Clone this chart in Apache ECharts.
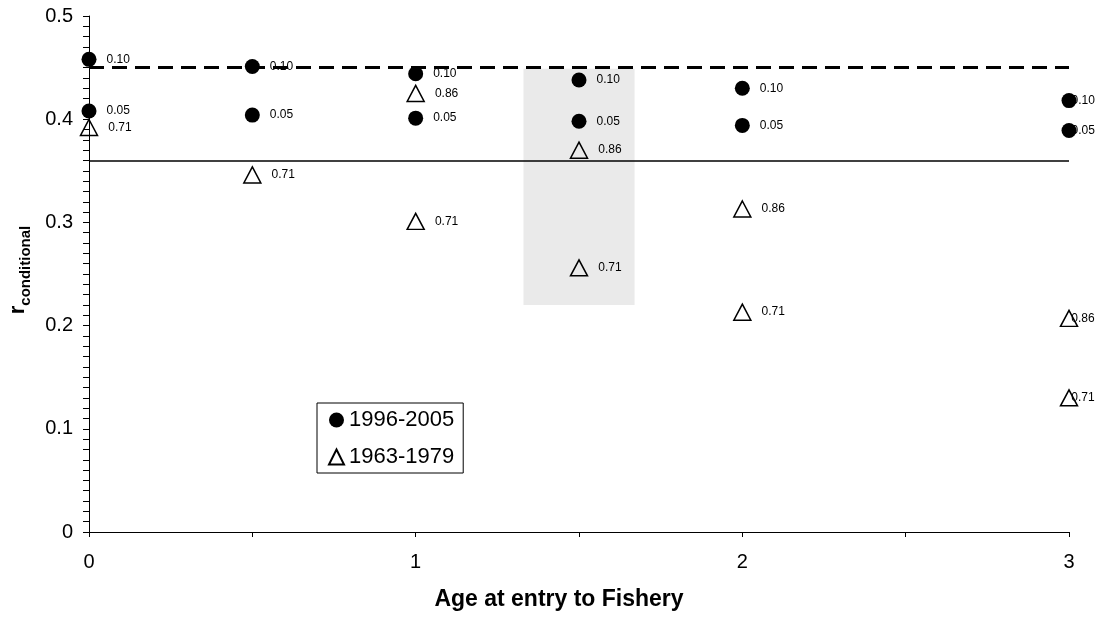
<!DOCTYPE html>
<html>
<head>
<meta charset="utf-8">
<script src="https://cdn.jsdelivr.net/npm/echarts@6/dist/echarts.min.js"></script>
<style>html,body{margin:0;padding:0;background:#fff}#c{width:1104px;height:617px}</style>
</head>
<body>
<div id="c"></div>
<script>
// ---- data ----
const xValues = [0, 0.5, 1, 1.5, 2, 3];
const xTickLabels = ['0', '1', '2', '3'];
const yTickLabels = ['0', '0.1', '0.2', '0.3', '0.4', '0.5'];
// 1996-2005 (filled circles)
const recentLabels = ['0.10', '0.05'];
const recent010 = [0.458, 0.451, 0.444, 0.438, 0.430, 0.418];
const recent005 = [0.408, 0.404, 0.401, 0.398, 0.394, 0.389];
// 1963-1979 (open triangles)
const oldLabels = ['0.71', '0.86'];
const old071 = [0.392, 0.346, 0.301, 0.256, 0.213, 0.130];
const old086 = [null, null, 0.425, 0.370, 0.313, 0.207];
// reference lines & shaded band
const dashedLevel = 0.449;
const solidLevel = 0.361;
const shadeX = [1.33, 1.67];
const shadeY = [0.22, 0.449];
const seriesNames = ['1996-2005', '1963-1979'];
const xTitle = 'Age at entry to Fishery';

function buildPoints(arrs, labels, edgeDistance) {
  const out = [];
  arrs.forEach((arr, k) => {
    arr.forEach((v, i) => {
      if (v == null) return;
      const item = { value: [xValues[i], v, labels[k]] };
      if (xValues[i] === 3) item.label = { distance: edgeDistance };
      out.push(item);
    });
  });
  return out;
}

const chart = echarts.init(document.getElementById('c'), null, { renderer: 'canvas' });
const FONT = 'Liberation Sans, Arial, sans-serif';

chart.setOption({
  animation: false,
  backgroundColor: '#fff',
  textStyle: { fontFamily: FONT, color: '#000' },
  grid: { left: 89, right: 35, top: 16, bottom: 85, containLabel: false },
  xAxis: {
    type: 'value', min: 0, max: 3, interval: 0.5,
    axisLine: { lineStyle: { color: '#000', width: 1 } },
    axisTick: { show: true, length: 5, lineStyle: { color: '#000' } },
    splitLine: { show: false },
    axisLabel: {
      margin: 20, fontSize: 20, color: '#000', fontFamily: FONT,
      formatter: v => (Number.isInteger(v) ? xTickLabels[v] : '')
    }
  },
  yAxis: {
    type: 'value', min: 0, max: 0.5, interval: 0.1,
    axisLine: { show: true, lineStyle: { color: '#000', width: 1 } },
    axisTick: { show: true, length: 6, lineStyle: { color: '#000' } },
    minorTick: { show: true, splitNumber: 10, length: 6, lineStyle: { color: '#000' } },
    splitLine: { show: false },
    axisLabel: {
      margin: 16, fontSize: 20, color: '#000', fontFamily: FONT,
      formatter: v => yTickLabels[Math.round(v * 10)]
    }
  },
  legend: {
    orient: 'vertical', left: 317, top: 403,
    borderColor: '#000', borderWidth: 1, borderRadius: 0,
    padding: [6, 9, 5, 11], itemGap: 15, itemWidth: 15, itemHeight: 15,
    textStyle: { fontSize: 22, color: '#000', fontFamily: FONT },
    data: seriesNames
  },
  graphic: [
    {
      type: 'text', x: 559, y: 600, z: 10,
      style: { text: xTitle, font: 'bold 23px ' + FONT, fill: '#000', textAlign: 'center', textVerticalAlign: 'middle' }
    },
    {
      type: 'text', x: 18, y: 270, rotation: Math.PI / 2, z: 10,
      style: {
        text: '{r|r}{s|conditional}', textAlign: 'center', textVerticalAlign: 'middle', fill: '#000',
        rich: {
          r: { font: 'bold 22px ' + FONT, fill: '#000', lineHeight: 30, verticalAlign: 'middle' },
          s: { font: 'bold 15px ' + FONT, fill: '#000', lineHeight: 30, verticalAlign: 'bottom' }
        }
      }
    }
  ],
  series: [
    {
      name: 'lines', type: 'line', data: [], z: 1, silent: true,
      markLine: {
        silent: true, symbol: 'none', label: { show: false },
        data: [
          { yAxis: dashedLevel, lineStyle: { color: '#000', width: 3, type: [15, 8] } },
          { yAxis: solidLevel, lineStyle: { color: '#000', width: 1.5, type: 'solid' } }
        ]
      }
    },
    {
      name: seriesNames[0], type: 'scatter', z: 3, clip: false,
      symbol: 'circle', symbolSize: 15,
      itemStyle: { color: '#000', opacity: 1 },
      emphasis: { disabled: true },
      label: { show: true, position: 'right', distance: 10, fontSize: 12, color: '#000', fontFamily: FONT,
        formatter: p => p.value[2] },
      data: buildPoints([recent010, recent005], recentLabels, -5)
    },
    {
      name: seriesNames[1], type: 'scatter', z: 3, clip: false,
      symbol: 'triangle', symbolSize: [17, 16],
      itemStyle: { color: 'rgba(255,255,255,0)', borderColor: '#000', borderWidth: 1.5, opacity: 1 },
      emphasis: { disabled: true },
      label: { show: true, position: 'right', distance: 10, fontSize: 12, color: '#000', fontFamily: FONT,
        formatter: p => p.value[2] },
      data: buildPoints([old071, old086], oldLabels, -7)
    },
    {
      name: 'shade', type: 'scatter', data: [], z: 5, silent: true,
      markArea: {
        silent: true,
        itemStyle: { color: 'rgba(150,150,150,0.2)' },
        data: [[{ coord: [shadeX[0], shadeY[1]] }, { coord: [shadeX[1], shadeY[0]] }]]
      }
    }
  ]
});
</script>
</body>
</html>
